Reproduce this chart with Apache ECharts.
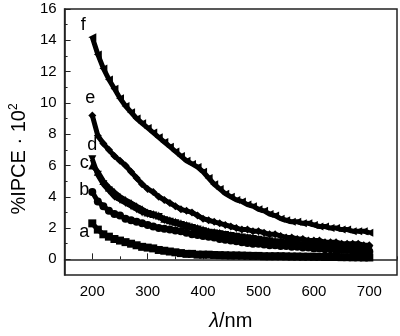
<!DOCTYPE html>
<html>
<head>
<meta charset="utf-8">
<script src="https://cdnjs.cloudflare.com/ajax/libs/echarts/6.0.0/echarts.min.js"></script>
<style>
  html, body { margin: 0; padding: 0; background: #fff; }
  #chart { width: 400px; height: 336px; }
</style>
</head>
<body>
<div id="chart"></div>
<script>
// wavelength (nm)
const wavelengths = [200, 210, 220, 230, 240, 250, 260, 270, 280, 290,
  300, 310, 320, 330, 340, 350, 360, 370, 380, 390,
  400, 410, 420, 430, 440, 450, 460, 470, 480, 490,
  500, 510, 520, 530, 540, 550, 560, 570, 580, 590,
  600, 610, 620, 630, 640, 650, 660, 670, 680, 690, 700];

// %IPCE * 10^2
const curveA = [2.3, 1.9, 1.6, 1.45, 1.3, 1.2, 1.1, 1.0, 0.9, 0.8,
  0.75, 0.7, 0.6, 0.55, 0.5, 0.45, 0.4, 0.35, 0.35, 0.3,
  0.3, 0.3, 0.28, 0.27, 0.26, 0.25, 0.25, 0.24, 0.23, 0.22,
  0.22, 0.2, 0.2, 0.2, 0.2, 0.19, 0.18, 0.18, 0.17, 0.17,
  0.16, 0.16, 0.15, 0.15, 0.15, 0.14, 0.14, 0.13, 0.13, 0.12, 0.12];
const curveB = [4.3, 3.7, 3.4, 3.1, 2.9, 2.8, 2.6, 2.5, 2.4, 2.3,
  2.2, 2.1, 2.0, 1.95, 1.9, 1.85, 1.8, 1.7, 1.6, 1.55,
  1.5, 1.45, 1.4, 1.3, 1.25, 1.2, 1.15, 1.1, 1.05, 1.0,
  1.0, 0.95, 0.9, 0.9, 0.85, 0.85, 0.8, 0.8, 0.75, 0.75,
  0.7, 0.7, 0.65, 0.65, 0.6, 0.6, 0.6, 0.55, 0.55, 0.5, 0.5];
const curveC = [6.4, 5.4, 4.8, 4.4, 4.0, 3.8, 3.6, 3.4, 3.2, 3.0,
  2.9, 2.8, 2.7, 2.5, 2.4, 2.3, 2.2, 2.1, 2.0, 1.9,
  1.8, 1.7, 1.65, 1.6, 1.55, 1.5, 1.45, 1.4, 1.35, 1.3,
  1.25, 1.2, 1.15, 1.1, 1.05, 1.0, 1.0, 0.95, 0.9, 0.9,
  0.85, 0.85, 0.8, 0.8, 0.75, 0.75, 0.7, 0.7, 0.7, 0.65, 0.65];
const curveD = [6.0, 5.6, 5.0, 4.6, 4.3, 4.0, 3.8, 3.6, 3.4, 3.2,
  3.0, 2.9, 2.8, 2.6, 2.5, 2.4, 2.3, 2.2, 2.1, 2.0,
  1.9, 1.8, 1.75, 1.7, 1.6, 1.55, 1.5, 1.45, 1.4, 1.35,
  1.3, 1.25, 1.2, 1.15, 1.1, 1.1, 1.05, 1.0, 1.0, 0.95,
  0.9, 0.9, 0.85, 0.85, 0.8, 0.8, 0.8, 0.75, 0.75, 0.7, 0.7];
const curveE = [9.2, 7.9, 7.4, 7.0, 6.6, 6.3, 6.0, 5.6, 5.2, 4.8,
  4.5, 4.3, 4.0, 3.8, 3.6, 3.4, 3.2, 3.1, 3.0, 2.8,
  2.6, 2.5, 2.4, 2.3, 2.2, 2.1, 2.0, 1.9, 1.9, 1.8,
  1.8, 1.7, 1.6, 1.6, 1.5, 1.4, 1.4, 1.3, 1.3, 1.2,
  1.2, 1.2, 1.1, 1.1, 1.1, 1.0, 1.0, 1.0, 1.0, 0.9, 0.9];
const curveF = [14.2, 13.1, 12.2, 11.5, 10.9, 10.3, 9.8, 9.4, 9.0, 8.7,
  8.4, 8.1, 7.8, 7.5, 7.2, 6.9, 6.6, 6.3, 6.1, 5.9,
  5.6, 5.2, 4.8, 4.5, 4.2, 4.0, 3.8, 3.7, 3.5, 3.4,
  3.2, 3.1, 2.9, 2.8, 2.6, 2.5, 2.4, 2.4, 2.3, 2.3,
  2.2, 2.1, 2.1, 2.0, 2.0, 1.9, 1.9, 1.8, 1.8, 1.8, 1.7];

const xMajorTicks = [200, 300, 400, 500, 600, 700];
const xMinorTicks = [150, 250, 350, 450, 550, 650, 750];
const yMajorTicks = [0, 2, 4, 6, 8, 10, 12, 14, 16];
const yMinorTicks = [1, 3, 5, 7, 9, 11, 13, 15];

const curves = [
  { name: 'a', values: curveA, symbol: 'rect', offset: [-8, 9] },
  { name: 'b', values: curveB, symbol: 'circle', offset: [-8, -2] },
  { name: 'c', values: curveC, symbol: 'path://M0,0L10,0L5,10Z', offset: [-8, 4] },
  { name: 'd', values: curveD, symbol: 'triangle', offset: [0, -20] },
  { name: 'e', values: curveE, symbol: 'diamond', offset: [-2, -17] },
  { name: 'f', values: curveF, symbol: 'path://M0,5L10,0L10,10Z', offset: [-9, -12] }
];

const chart = echarts.init(document.getElementById('chart'), null, { renderer: 'canvas' });

const font = 'Liberation Sans, Arial, sans-serif';

function makeSeries(c) {
  return {
    type: 'line',
    name: c.name,
    xAxisIndex: 0,
    yAxisIndex: 0,
    symbol: c.symbol,
    symbolSize: 8,
    showAllSymbol: true,
    itemStyle: { color: '#000' },
    lineStyle: { color: '#000', width: 5 },
    z: 3,
    data: wavelengths.map((w, i) => {
      if (i === 0) {
        return {
          value: [w, c.values[i]],
          label: {
            show: true,
            formatter: c.name,
            position: 'inside',
            offset: c.offset,
            fontFamily: font,
            fontSize: 18,
            color: '#000'
          }
        };
      }
      return [w, c.values[i]];
    })
  };
}

const option = {
  animation: false,
  grid: {
    left: 63, right: 3, top: 9, bottom: 58,
    show: true, borderColor: '#222', borderWidth: 1.5
  },
  xAxis: [
    {
      type: 'value', min: 150, max: 750,
      name: '{i|λ}/nm',
      nameLocation: 'middle', nameGap: 36,
      nameTextStyle: {
        fontFamily: font, fontSize: 20, color: '#000',
        rich: { i: { fontFamily: font, fontSize: 20, fontStyle: 'italic', color: '#000' } }
      },
      axisLine: { lineStyle: { color: '#222', width: 1.5 } },
      axisTick: { inside: true, length: 6, customValues: xMajorTicks, lineStyle: { color: '#222' } },
      axisLabel: { customValues: xMajorTicks, fontFamily: font, fontSize: 15, color: '#000', margin: 9 },
      splitLine: { show: false }
    },
    {
      type: 'value', min: 150, max: 750, position: 'bottom',
      axisLine: { show: false },
      axisTick: { inside: true, length: 3, customValues: xMinorTicks, lineStyle: { color: '#222' } },
      axisLabel: { show: false },
      splitLine: { show: false }
    }
  ],
  yAxis: [
    {
      type: 'value', min: -1, max: 16,
      name: '%IPCE · 10{sup|2}',
      nameLocation: 'middle', nameGap: 23,
      nameTextStyle: {
        fontFamily: font, fontSize: 20, color: '#000',
        padding: [0, 34, 0, 0],
        rich: { sup: { fontFamily: font, fontSize: 12, color: '#000', padding: [0, 0, 10, 0] } }
      },
      axisLine: { lineStyle: { color: '#222', width: 1.5 } },
      axisTick: { inside: true, length: 6, customValues: yMajorTicks, lineStyle: { color: '#222' } },
      axisLabel: { customValues: yMajorTicks, fontFamily: font, fontSize: 15, color: '#000', margin: 8 },
      splitLine: { show: false }
    },
    {
      type: 'value', min: -1, max: 16, position: 'left',
      axisLine: { show: false },
      axisTick: { inside: true, length: 3, customValues: yMinorTicks, lineStyle: { color: '#222' } },
      axisLabel: { show: false },
      splitLine: { show: false }
    }
  ],
  series: curves.map(makeSeries)
};

chart.setOption(option);
</script>
</body>
</html>
